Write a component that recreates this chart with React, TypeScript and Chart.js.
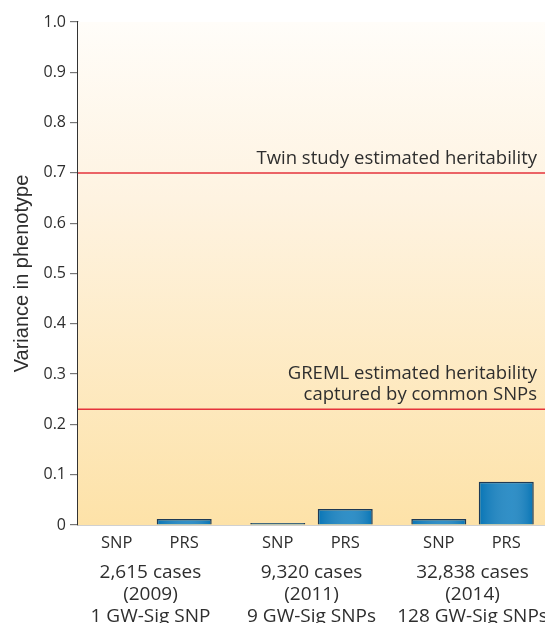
import React, { useEffect, useRef } from "react";
import { Chart, registerables } from "chart.js";

Chart.register(...registerables);

// ---- data ----
const groupPositions = [0, 1, 2];
const groupLabels = [
  ["2,615 cases", "(2009)", "1 GW-Sig SNP"],
  ["9,320 cases", "(2011)", "9 GW-Sig SNPs"],
  ["32,838 cases", "(2014)", "128 GW-Sig SNPs"],
];
const barLabels = ["SNP", "PRS"];
const snpValues = [0, 0.004, 0.012];
const prsValues = [0.012, 0.032, 0.086];
const yTickStep = 0.1;
const yMax = 1.0;
const twinValue = 0.7;
const twinLabel = ["Twin study estimated heritability"];
const gremlValue = 0.23;
const gremlLabel = ["GREML estimated heritability", "captured by common SNPs"];
const yTitle = "Variance in phenotype";

// layout constants
const X_MIN = -0.45;
const X_MAX = 2.45;
const CAT_PCT = 0.838;
const BAR_PCT = 0.815;
const TEXT = "#2e2e2e";
const FONT = "'Open Sans', 'Noto Sans', sans-serif";

const backgroundPlugin = {
  id: "bgGradient",
  beforeDatasetsDraw(chart: any) {
    const { ctx, chartArea } = chart;
    const g = ctx.createLinearGradient(0, chartArea.top, 0, chartArea.bottom);
    g.addColorStop(0, "#fffdf9");
    g.addColorStop(0.35, "#fef3e1");
    g.addColorStop(1, "#fde2a8");
    ctx.save();
    ctx.fillStyle = g;
    ctx.fillRect(chartArea.left, chartArea.top, chartArea.right - chartArea.left, chartArea.bottom - chartArea.top);
    ctx.restore();
  },
};

const barShadePlugin = {
  id: "barShade",
  afterDatasetsDraw(chart: any) {
    const { ctx } = chart;
    ctx.save();
    chart.data.datasets.forEach((_: any, di: number) => {
      const meta = chart.getDatasetMeta(di);
      meta.data.forEach((el: any) => {
        const { x, y, base, width } = el.getProps(["x", "y", "base", "width"], true);
        const h = base - y;
        if (h < 3) return;
        const l = x - width / 2 + 1.5;
        const r = x + width / 2 - 1.5;
        const g = ctx.createLinearGradient(l, 0, r, 0);
        g.addColorStop(0, "rgba(255,255,255,0)");
        g.addColorStop(0.6, "rgba(120,190,230,0.35)");
        g.addColorStop(1, "rgba(255,255,255,0)");
        ctx.fillStyle = g;
        ctx.fillRect(l, y + 1.5, r - l, h - 1.5);
      });
    });
    ctx.restore();
  },
};

const annotationPlugin = {
  id: "heritLines",
  afterDatasetsDraw(chart: any) {
    const { ctx, chartArea, scales } = chart;
    const drawLine = (value: number, lines: string[]) => {
      const py = scales.y.getPixelForValue(value);
      ctx.save();
      ctx.strokeStyle = "#e5333b";
      ctx.lineWidth = 1.5;
      ctx.beginPath();
      ctx.moveTo(chartArea.left, py);
      ctx.lineTo(chartArea.right, py);
      ctx.stroke();
      ctx.fillStyle = TEXT;
      ctx.font = `18.5px ${FONT}`;
      ctx.textAlign = "right";
      ctx.textBaseline = "alphabetic";
      const lh = 21;
      lines.forEach((t, i) => {
        const baseY = py - 9 - (lines.length - 1 - i) * lh;
        ctx.fillText(t, chartArea.right - 8, baseY);
      });
      ctx.restore();
    };
    drawLine(twinValue, twinLabel);
    drawLine(gremlValue, gremlLabel);
  },
};

export default function App() {
  const ref = useRef<HTMLCanvasElement>(null);
  useEffect(() => {
    if (!ref.current) return;
    Chart.defaults.font.family = FONT;
    const chart = new Chart(ref.current, {
      type: "bar",
      data: {
        datasets: [
          {
            label: barLabels[0],
            data: groupPositions.map((p, i) => ({ x: p, y: snpValues[i] })),
            backgroundColor: "#0b77b7",
            borderColor: "#1e3a55",
            borderWidth: 1.5,
            categoryPercentage: CAT_PCT,
            barPercentage: BAR_PCT,
          },
          {
            label: barLabels[1],
            data: groupPositions.map((p, i) => ({ x: p, y: prsValues[i] })),
            backgroundColor: "#0b77b7",
            borderColor: "#1e3a55",
            borderWidth: 1.5,
            categoryPercentage: CAT_PCT,
            barPercentage: BAR_PCT,
          },
        ] as any,
      },
      options: {
        animation: false,
        responsive: true,
        maintainAspectRatio: false,
        layout: { padding: { top: 22, right: 0, left: 0, bottom: 0 } },
        plugins: { legend: { display: false }, tooltip: { enabled: false } },
        scales: {
          x: {
            type: "linear",
            position: "bottom",
            weight: 10,
            min: X_MIN,
            max: X_MAX,
            bounds: "data",
            offset: false,
            grid: { display: false, drawTicks: false },
            border: { display: false },
            afterBuildTicks(scale: any) {
              scale.ticks = groupPositions.map((v) => ({ value: v }));
            },
            afterFit(scale: any) {
              scale.height = 68;
              scale.paddingLeft = 0;
              scale.paddingRight = 0;
            },
            ticks: {
              autoSkip: false,
              maxRotation: 0,
              padding: 6,
              color: TEXT,
              font: { size: 19, lineHeight: 1.17 },
              callback: (_v: any, i: number) => groupLabels[i],
            },
          } as any,
          xs: {
            type: "linear",
            position: "bottom",
            weight: 0,
            min: X_MIN,
            max: X_MAX,
            bounds: "data",
            offset: false,
            grid: { display: false, drawTicks: false },
            border: { display: true, color: "#444", width: 1.2 },
            afterBuildTicks(scale: any) {
              scale.ticks = groupPositions
                .flatMap((p) => [p - CAT_PCT / 4, p + CAT_PCT / 4])
                .map((v) => ({ value: v }));
            },
            afterFit(scale: any) {
              scale.height = 30;
              scale.paddingLeft = 0;
              scale.paddingRight = 0;
            },
            ticks: {
              autoSkip: false,
              maxRotation: 0,
              padding: 8,
              color: TEXT,
              font: { size: 16.5 },
              callback: (_v: any, i: number) => barLabels[i % 2],
            },
          } as any,
          y: {
            type: "linear",
            min: 0,
            max: yMax,
            grid: { drawOnChartArea: false, drawTicks: true, tickLength: 8, color: "#777", lineWidth: 1.2 },
            border: { display: true, color: "#333", width: 1.2 },
            afterFit(scale: any) {
              scale.width = 78;
            },
            title: {
              display: true,
              text: yTitle,
              color: TEXT,
              font: { family: "'Liberation Sans', Arial, sans-serif", size: 20 },
              padding: { top: 10, bottom: 0 },
            },
            ticks: {
              stepSize: yTickStep,
              padding: 4,
              color: TEXT,
              font: { size: 16 },
              callback: (v: any) => (v === 0 ? "0" : Number(v).toFixed(1)),
            },
          } as any,
        },
      },
      plugins: [backgroundPlugin, barShadePlugin, annotationPlugin],
    });
    return () => chart.destroy();
  }, []);
  return (
    <div style={{ position: "fixed", left: 0, top: 0, width: 545, height: 623 }}>
      <canvas ref={ref} />
    </div>
  );
}
